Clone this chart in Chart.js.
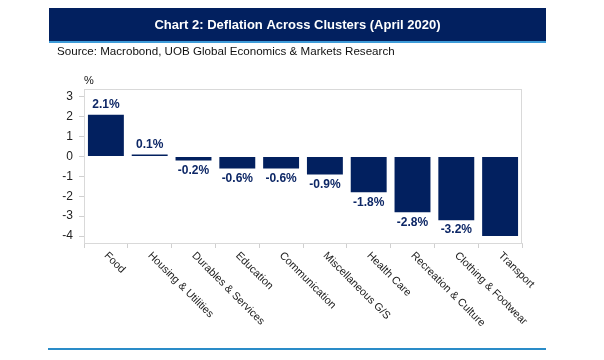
<!DOCTYPE html>
<html>
<head>
<meta charset="utf-8">
<script src="https://cdn.jsdelivr.net/npm/chart.js@4.4.1/dist/chart.umd.min.js"></script>
<style>
  body { margin: 0; background: #fff; }
  canvas { display: block; }
</style>
</head>
<body>
<canvas id="myChart" width="604" height="360"></canvas>
<script>
const categories = ["Food", "Housing & Utilities", "Durables & Services", "Education", "Communication",
  "Miscellaneous G/S", "Health Care", "Recreation & Culture", "Clothing & Footwear", "Transport"];
const deflation = [2.1, 0.1, -0.2, -0.6, -0.6, -0.9, -1.8, -2.8, -3.2, -4.0];
const yTicks = [3, 2, 1, 0, -1, -2, -3, -4];

const titleText = "Chart 2: Deflation Across Clusters (April 2020)";
const sourceText = "Source: Macrobond, UOB Global Economics & Markets Research";
const navy = "#02205f";
const font = "'Liberation Sans', Arial, sans-serif";

// marco, titulo, fuente y etiquetas
const decor = {
  id: "decor",
  beforeDraw(chart) {
    const c = chart.ctx;
    c.save();
    c.fillStyle = "#fff";
    c.fillRect(0, 0, chart.width, chart.height);
    c.fillStyle = navy;
    c.fillRect(49, 8, 497, 34);
    c.fillStyle = "#3d9bd8";
    c.fillRect(49, 41, 497, 2);
    c.fillStyle = "#fff";
    c.font = "bold 13px " + font;
    c.textAlign = "center";
    c.textBaseline = "middle";
    c.fillText(titleText, 297.5, 25);
    c.fillStyle = "#111";
    c.font = "11.6px " + font;
    c.textAlign = "left";
    c.fillText(sourceText, 57, 52);
    c.font = "11px " + font;
    c.fillText("%", 84, 81);
    c.fillStyle = "#2a8cc8";
    c.fillRect(48, 348, 498, 2);
    c.restore();
  },
  afterDraw(chart) {
    const c = chart.ctx;
    const area = chart.chartArea;
    const xs = chart.scales.x;
    const ys = chart.scales.y;
    c.save();
    c.strokeStyle = "#d9d9d9";
    c.lineWidth = 1;
    c.strokeRect(area.left + 0.5, area.top + 0.5, area.right - area.left - 1, area.bottom - area.top);

    // etiquetas de valor
    c.font = "bold 12px " + font;
    c.fillStyle = "#0d2766";
    c.textAlign = "center";
    c.textBaseline = "middle";
    deflation.forEach((v, i) => {
      const x = xs.getPixelForValue(i);
      const yv = ys.getPixelForValue(v);
      const y = v >= 0 ? yv - 10 : yv + 10;
      if (y + 5 > area.bottom) return;
      c.fillText(v.toFixed(1) + "%", x, y);
    });

    // categorias rotadas 45 grados
    c.font = "10.8px " + font;
    c.fillStyle = "#222";
    c.textAlign = "left";
    categories.forEach((label, i) => {
      const x = xs.getPixelForValue(i);
      c.save();
      c.translate(x, area.bottom + 11);
      c.rotate(Math.PI / 4);
      c.fillText(label, 0, 0);
      c.restore();
    });
    c.restore();
  }
};

const ctx = document.getElementById("myChart");
const myChart = new Chart(ctx, {
  type: "bar",
  data: {
    labels: categories,
    datasets: [{
      label: "Deflation",
      data: deflation,
      backgroundColor: navy,
      barPercentage: 0.82,
      categoryPercentage: 1.0
    }]
  },
  options: {
    responsive: false,
    animation: false,
    events: [],
    layout: { padding: { left: 0, top: 89, right: 82, bottom: 0 } },
    plugins: { legend: { display: false }, tooltip: { enabled: false } },
    scales: {
      x: {
        grid: { display: true, drawOnChartArea: false, drawTicks: true, tickLength: 5, color: "#d0d0d0", offset: true },
        border: { display: true, color: "#d9d9d9" },
        ticks: { display: false },
        afterFit(scale) { scale.height = 117; }
      },
      y: {
        min: -4.35,
        max: 3.4,
        afterBuildTicks(scale) { scale.ticks = yTicks.map(v => ({ value: v })); },
        grid: { display: true, drawOnChartArea: false, drawTicks: true, tickLength: 5, color: "#d0d0d0" },
        border: { display: true, color: "#d9d9d9" },
        ticks: { color: "#222", padding: 6, font: { family: font, size: 12 } },
        afterFit(scale) { scale.width = 84; }
      }
    }
  },
  plugins: [decor]
});
</script>
</body>
</html>
